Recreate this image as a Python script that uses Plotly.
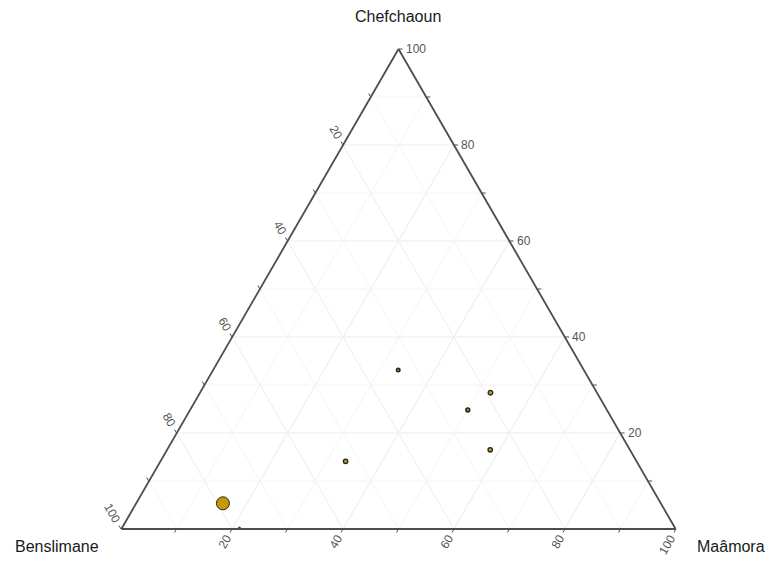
import plotly.graph_objects as go

# composition of each sample (percent)
chefchaoun = [5.35, 33.1, 28.4, 24.8, 16.5, 14.1, 0.2]
benslimane = [79.0, 33.5, 19.2, 25.1, 25.2, 52.5, 78.6]
maamora = [15.65, 33.4, 52.4, 50.1, 58.3, 33.4, 21.2]
point_size = [13, 3.4, 4.6, 3.8, 4.4, 4.4, 2]

major_vals = [20, 40, 60, 80, 100]
minor_vals = [10, 30, 50, 70, 90]
all_vals = [10, 20, 30, 40, 50, 60, 70, 80, 90, 100]

W, H = 769, 563
L, R, T, B = 121, 676, 49, 529  # triangle corners in pixels
S3 = 0.8660254


def to_px(a, c):
    x = L + (R - L) * (c + a / 2) / 100
    y = B - (B - T) * a / 100
    return x, y


def px(x, y):
    return x / W, 1 - y / H


fig = go.Figure()

# minor grid lines
ga, gb, gc = [], [], []
for v in minor_vals:
    ga += [v, v, None, 100 - v, 0, None, 100 - v, 0, None]
    gb += [100 - v, 0, None, v, v, None, 0, 100 - v, None]
    gc += [0, 100 - v, None, 0, 100 - v, None, v, v, None]
fig.add_trace(go.Scatterternary(
    a=ga, b=gb, c=gc, mode='lines',
    line=dict(color='#f3f3f3', width=0.9),
    hoverinfo='skip', showlegend=False
))

fig.add_trace(go.Scatterternary(
    a=chefchaoun, b=benslimane, c=maamora, mode='markers',
    marker=dict(size=point_size, color='#C49A00', opacity=1,
                line=dict(color='#262626', width=[1, 1.6, 1.3, 1.6, 1.3, 1.3, 1])),
    showlegend=False
))

axis_style = dict(
    title=dict(text=''),
    min=0, dtick=20, tick0=0, showticklabels=False, ticks='',
    showgrid=True, gridcolor='#ececec', gridwidth=1.3,
    showline=True, linecolor='#4d4d4d', linewidth=1.8,
)

shapes = []
annotations = []
tick_font = dict(family='Liberation Sans, Arial, sans-serif', size=12, color='#555555')

for v in all_vals:
    # right edge (Chefchaoun)
    x, y = to_px(v, 100 - v)
    x0, y0 = px(x, y)
    x1, y1 = px(x + 4, y)
    shapes.append(dict(type='line', xref='paper', yref='paper', x0=x0, y0=y0, x1=x1, y1=y1,
                       line=dict(color='#4d4d4d', width=1)))
    if v in major_vals:
        annotations.append(dict(x=x1, y=y1, xref='paper', yref='paper', text=str(v),
                                showarrow=False, xanchor='left', yanchor='middle',
                                xshift=1, font=tick_font))
    # left edge (Benslimane)
    x, y = to_px(100 - v, 0)
    x0, y0 = px(x, y)
    x1, y1 = px(x - 4 * 0.5, y - 4 * S3)
    shapes.append(dict(type='line', xref='paper', yref='paper', x0=x0, y0=y0, x1=x1, y1=y1,
                       line=dict(color='#4d4d4d', width=1)))
    if v in major_vals:
        d = 8 + 3.4 * len(str(v))
        lx, ly = px(x - d * 0.5, y - d * S3)
        annotations.append(dict(x=lx, y=ly, xref='paper', yref='paper', text=str(v),
                                showarrow=False, xanchor='center', yanchor='middle',
                                textangle=60, font=tick_font))
    # bottom edge (Maâmora)
    x, y = to_px(0, v)
    x0, y0 = px(x, y)
    x1, y1 = px(x - 4 * 0.5, y + 4 * S3)
    shapes.append(dict(type='line', xref='paper', yref='paper', x0=x0, y0=y0, x1=x1, y1=y1,
                       line=dict(color='#4d4d4d', width=1)))
    if v in major_vals:
        d = 8 + 3.4 * len(str(v))
        lx, ly = px(x - d * 0.5, y + d * S3)
        annotations.append(dict(x=lx, y=ly, xref='paper', yref='paper', text=str(v),
                                showarrow=False, xanchor='center', yanchor='middle',
                                textangle=-60, font=tick_font))

title_font = dict(family='Liberation Sans, Arial, sans-serif', size=16, color='#1a1a1a')
for name, (x, y) in [('Chefchaoun', (398, 17)), ('Benslimane', (57, 546)), ('Maâmora', (731, 546))]:
    ax, ay = px(x, y)
    annotations.append(dict(x=ax, y=ay, xref='paper', yref='paper', text=name,
                            showarrow=False, xanchor='center', yanchor='middle', font=title_font))

fig.update_layout(
    width=W, height=H,
    margin=dict(l=0, r=0, t=0, b=0),
    paper_bgcolor='white',
    ternary=dict(
        sum=100,
        bgcolor='white',
        domain=dict(x=[L / W, R / W], y=[1 - B / H, 1 - T / H]),
        aaxis=axis_style, baxis=axis_style, caxis=axis_style,
    ),
    shapes=shapes,
    annotations=annotations,
    showlegend=False,
)

fig.write_html("out.html", config={'displayModeBar': False},
               post_script="document.body.style.margin='0';document.body.style.padding='0';")
